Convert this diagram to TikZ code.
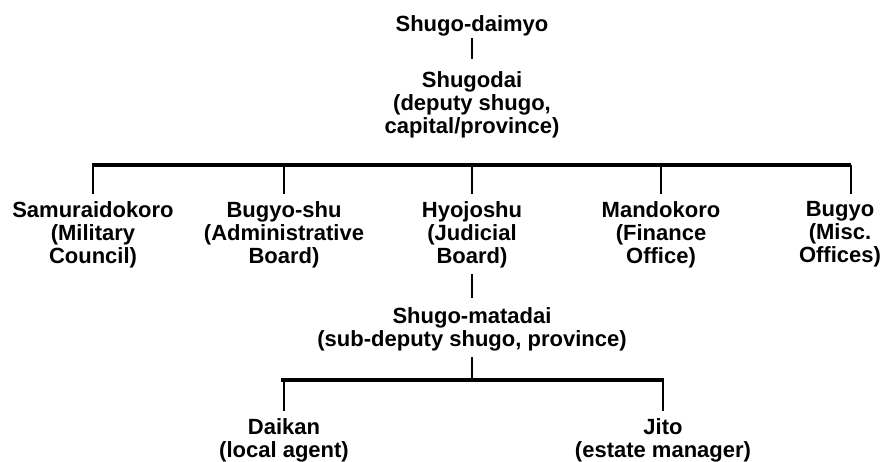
\documentclass[tikz,border=0pt]{standalone}
\usepackage{fontspec}
\setmainfont{Liberation Sans}
\usepackage{tikz}

\tikzset{
  office/.style={align=center, inner sep=0pt, anchor=north,
    font=\bfseries\fontsize{22}{23}\selectfont,
    execute at begin node=\strut},
  bar/.style={line width=3.2pt},
  drop/.style={line width=1.2pt, shorten >=7pt}
}

\begin{document}
\begin{tikzpicture}[x=1pt,y=-1pt]
      \useasboundingbox (0,0) rectangle (892,462) ;
      % top of the chain
      \node[office] (daimyo) at (472,15) {Shugo-daimyo} ;
      \node[office] (shugodai) at (472,71) %
        {Shugodai\\(deputy shugo,\\capital/province)} ;
      \draw[line width=1.2pt, shorten >=12pt] (daimyo.south) -- (shugodai.north) ;
      % the five offices
      \coordinate (topL) at (92,165) ;
      \coordinate (topR) at (851,165) ;
      \draw[bar] (topL) -- (topR) ;
      \node[office] (samurai) at (93,201) {Samuraidokoro\\(Military\\Council)} ;
      \node[office] (bugyoshu) at (284,201) {Bugyo-shu\\(Administrative\\Board)} ;
      \node[office] (hyojoshu) at (472,201) {Hyojoshu\\(Judicial\\Board)} ;
      \node[office] (mandokoro) at (661,201) {Mandokoro\\(Finance\\Office)} ;
      \node[office] (bugyo) at (840,201) {Bugyo\\(Misc.\\Offices)} ;
      \foreach \n in {samurai,bugyoshu,hyojoshu,mandokoro}
        \draw[drop] (\n.north |- topL) -- (\n.north) ;
      \draw[drop] (topR) -- (topR |- bugyo.north) ;
      % the province
      \node[office] (matadai) at (472,307) %
        {Shugo-matadai\\(sub-deputy shugo, province)} ;
      \draw[line width=1.2pt, shorten <=4pt, shorten >=9pt] %
        (hyojoshu.south) -- (matadai.north) ;
      \coordinate (lowL) at (281,380) ;
      \coordinate (lowR) at (664,380) ;
      \draw[bar] (lowL) -- (lowR) ;
      \draw[line width=1.2pt, shorten <=4pt] (matadai.south) -- (matadai.south |- lowL) ;
      \node[office] (daikan) at (284,418) {Daikan\\(local agent)} ;
      \node[office] (jito) at (663,418) {Jito\\(estate manager)} ;
      \draw[drop] (daikan.north |- lowL) -- (daikan.north) ;
      \draw[drop] (jito.north |- lowL) -- (jito.north) ;
    \end{tikzpicture}
\end{document}
